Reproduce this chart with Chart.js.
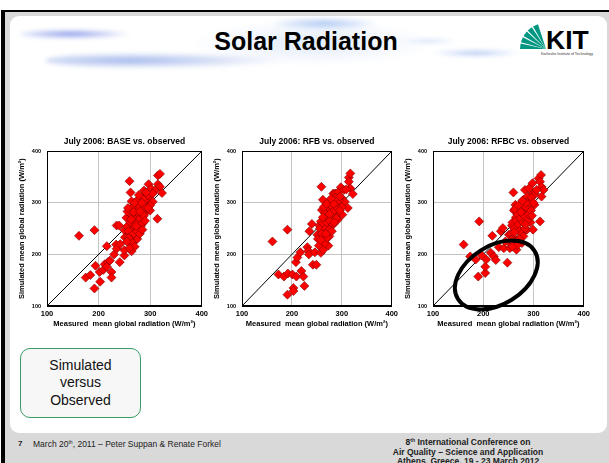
<!DOCTYPE html>
<html>
<head>
<meta charset="utf-8">
<script src="https://cdn.jsdelivr.net/npm/chart.js@4.4.1/dist/chart.umd.min.js"></script>
<style>
body { margin:0; width:609px; height:463px; overflow:hidden; background:#fff; position:relative;
       font-family:"Liberation Sans", Arial, sans-serif; }
#frame { position:absolute; left:1px; top:10px; width:608px; height:453px; box-sizing:border-box;
         border-top:2px solid #000; border-left:4px solid #000; background:#d9d9d9; }
#panel { position:absolute; left:10px; top:16px; width:597px; height:417px; background:#fff; border-radius:9px; }
.brush { position:absolute; border-radius:50%; filter:blur(2px); }
#title { position:absolute; left:156px; top:29px; width:300px; text-align:center;
         font-weight:bold; font-size:25px; line-height:25px; color:#000; }
#logo { position:absolute; left:515px; top:24px; }
canvas { position:absolute; }
#box { position:absolute; left:20px; top:348px; width:121px; height:70px; box-sizing:border-box;
       border:1.5px solid #3c9c62; border-radius:10px; background:#f7f7f7; text-align:center;
       font-size:14px; line-height:17.5px; padding-top:7.5px; color:#111; }
.foot { position:absolute; color:#222; }
sup { font-size:0.6em; line-height:0; vertical-align:0.5em; }
</style>
</head>
<body>
<div id="frame"></div>
<div id="panel"></div>

<!-- blue brush strokes behind the title -->
<div class="brush" style="left:190px;top:20px;width:245px;height:46px;background:radial-gradient(ellipse, rgba(190,210,242,0.45), rgba(255,255,255,0) 70%);"></div>
<div class="brush" style="left:20px;top:29px;width:112px;height:10px;background:radial-gradient(ellipse at 45% 50%, rgba(105,125,225,0.8), rgba(150,170,240,0) 70%);"></div>
<div class="brush" style="left:45px;top:52px;width:240px;height:17px;background:radial-gradient(ellipse at 35% 50%, rgba(115,145,225,0.65), rgba(160,185,240,0) 70%);"></div>
<div class="brush" style="left:268px;top:17px;width:112px;height:13px;background:radial-gradient(ellipse, rgba(120,165,235,0.6), rgba(160,190,240,0) 70%);"></div>
<div class="brush" style="left:430px;top:49px;width:92px;height:8px;background:radial-gradient(ellipse, rgba(125,160,230,0.6), rgba(160,190,240,0) 70%);"></div>
<div class="brush" style="left:400px;top:38px;width:60px;height:6px;background:radial-gradient(ellipse, rgba(150,180,235,0.45), rgba(160,190,240,0) 70%);"></div>

<div id="title">Solar Radiation</div>

<svg id="logo" width="82" height="36" viewBox="0 0 82 36">
  <g fill="#009682">
    <path d="M31 25 L5 25 L5.57 19.59 Z"/>
    <path d="M31 25 L5.89 18.27 L7.83 13.2 Z"/>
    <path d="M31 25 L8.48 12 L11.68 7.6 Z"/>
    <path d="M31 25 L12.62 6.62 L16.84 3.2 Z"/>
    <path d="M31 25 L18 2.48 L22.97 0.27 Z"/>
  </g>
  <text x="31" y="25" font-family="Liberation Sans, Arial" font-weight="bold" font-size="26.5" fill="#000">KIT</text>
  <text x="78" y="31" text-anchor="end" font-family="Liberation Sans, Arial" font-size="3.6" fill="#333">Karlsruhe Institute of Technology</text>
</svg>

<canvas id="c1" width="198" height="198" style="left:13px;top:133px"></canvas>
<canvas id="c2" width="193" height="198" style="left:208px;top:133px"></canvas>
<canvas id="c3" width="194" height="198" style="left:399px;top:133px"></canvas>

<div id="box">Simulated<br>versus<br>Observed</div>

<div class="foot" style="left:18px;top:439px;font-size:8px;font-weight:bold;">7</div>
<div class="foot" style="left:33px;top:439px;font-size:8.5px;">March 20<sup>th</sup>, 2011 – Peter Suppan &amp; Renate Forkel</div>
<div class="foot" style="left:358px;top:438px;width:220px;text-align:center;font-size:8.5px;font-weight:bold;line-height:9.5px;">8<sup>th</sup> International Conference on<br>Air Quality – Science and Application<br>Athens, Greece, 19 - 23 March 2012</div>

<script>
// measured vs simulated mean global radiation (W/m2)
var basePoints = [
  [162,236],[192,247],[216,216],[175,155],[184,160],[194,178],[192,134],[202,166],[203,147],[209,170],
  [212,181],[218,185],[216,176],[222,188],[225,166],[225,155],[230,200],[234,219],[235,211],[235,256],
  [240,256],[242,220],[241,185],[250,198],[250,208],[250,247],[251,233],[254,271],[256,283],[260,342],
  [262,320],[264,303],[260,256],[259,237],[264,206],[263,220],[267,252],[269,266],[270,230],[268,293],
  [272,285],[275,305],[277,278],[278,260],[277,244],[275,230],[282,292],[284,271],[286,311],[288,324],
  [291,298],[292,282],[295,301],[297,336],[298,311],[300,285],[302,327],[305,302],[315,353],[319,356],
  [315,336],[319,331],[323,319],[314,269],[309,324],
  [255,254],[258,245],[262,262],[265,275],[268,240],[270,255],[272,268],[274,282],[276,262],[278,290],
  [280,270],[282,255],[283,280],[286,288],[288,275],[290,305],[292,292],[262,228],[266,222],[270,215],
  [258,232],[255,225],[260,212],[265,290],[270,300],[275,245],[280,240],[285,260],[288,310],[295,315],
  [300,295],[305,318],[292,320],[284,300],[278,315],[296,290],[290,265],[285,248],[273,255],[263,268],
  [257,290],[268,282],[280,283]
];
var rfbPoints = [
  [161,225],[191,248],[173,161],[184,157],[192,163],[201,161],[191,122],[203,135],[203,129],[209,157],
  [208,185],[211,194],[217,204],[219,168],[223,157],[225,139],[231,214],[233,207],[234,200],[235,245],
  [240,259],[242,180],[249,180],[246,204],[251,238],[252,230],[254,217],[255,256],[259,331],[262,306],
  [260,286],[258,264],[258,203],[263,209],[263,245],[267,229],[267,273],[269,296],[272,253],[273,217],
  [275,235],[277,286],[280,302],[281,267],[283,318],[287,318],[288,294],[289,277],[292,267],[296,299],
  [298,330],[300,309],[304,325],[301,277],[312,290],[314,349],[317,357],[314,341],[317,328],[322,317],
  [309,326],[292,320],[306,302],
  [256,250],[260,240],[263,260],[266,280],[268,250],[270,262],[272,275],[274,290],[276,265],[278,295],
  [281,280],[283,258],[285,285],[287,300],[289,270],[291,290],[294,305],[262,225],[266,222],[270,232],
  [258,228],[264,292],[270,298],[275,248],[280,245],[285,262],[288,310],[296,312],[300,292],[296,285],
  [284,298],[278,308],[268,240],[262,272],[275,278]
];
var rfbcPoints = [
  [161,219],[192,264],[174,196],[185,190],[190,157],[204,164],[204,176],[206,190],[197,198],[215,203],
  [218,236],[221,196],[225,189],[231,214],[235,245],[239,251],[241,212],[244,225],[248,184],[251,238],
  [256,219],[257,256],[260,320],[261,285],[264,296],[265,272],[266,209],[268,229],[270,249],[273,264],
  [277,222],[278,286],[280,306],[283,325],[285,270],[287,248],[289,286],[291,306],[294,262],[297,317],
  [298,338],[299,248],[302,296],[303,317],[310,347],[315,354],[313,341],[316,331],[320,325],[316,312],
  [313,264],[306,325],[291,328],
  [255,240],[258,262],[262,250],[265,265],[268,278],[270,258],[272,245],[274,270],[276,290],[279,262],
  [281,276],[283,250],[285,292],[287,265],[290,278],[292,300],[295,285],[260,232],[264,225],[268,218],
  [256,228],[263,288],[270,295],[276,240],[280,235],[284,258],[288,312],[296,310],[300,300],[297,275],
  [285,300],[278,304],[272,230],[262,243],[275,282],[253,212],[258,215]
];
var diagonal = [100, 400];
var axisTicks = [100, 200, 300, 400];

// ellipse drawn by hand on the RFBC panel (data units)
var ring = { x: 226, y: 160, a: 90, b: 58, tilt: 32 };

Chart.defaults.font.family = '"Liberation Sans", Arial, sans-serif';
Chart.defaults.color = '#000';

var boxPlugin = {
  id: 'box',
  beforeDatasetsDraw: function(chart) {
    var a = chart.chartArea, c = chart.ctx;
    c.save();
    c.strokeStyle = '#000';
    c.lineWidth = 1;
    var l = Math.round(a.left) + 0.5, t = Math.round(a.top) + 0.5;
    var r = Math.round(a.right) - 0.5, b = Math.round(a.bottom) - 0.5;
    c.strokeRect(l, t, r - l, b - t);
    c.restore();
  }
};

var ringPlugin = {
  id: 'ring',
  afterDatasetsDraw: function(chart) {
    var xs = chart.scales.x, ys = chart.scales.y, c = chart.ctx;
    var k = (xs.getPixelForValue(200) - xs.getPixelForValue(100)) / 100;
    c.save();
    c.beginPath();
    c.ellipse(xs.getPixelForValue(ring.x), ys.getPixelForValue(ring.y), ring.a * k, ring.b * k,
              -ring.tilt * Math.PI / 180, 0, Math.PI * 2);
    c.lineWidth = 4;
    c.strokeStyle = '#000';
    c.stroke();
    c.restore();
  }
};

function makeChart(id, titleText, points, extra) {
  var ctx = document.getElementById(id).getContext('2d');
  var plugins = [boxPlugin];
  if (extra) plugins.push(extra);
  return new Chart(ctx, {
    type: 'scatter',
    data: {
      datasets: [{
        data: points.map(function(p) { return { x: p[0], y: p[1] }; }),
        pointStyle: 'rectRot',
        pointRadius: 4.5,
        backgroundColor: '#ff0000',
        borderColor: '#7a0000',
        borderWidth: 0.6,
        order: 0
      }, {
        type: 'line',
        data: diagonal.map(function(v) { return { x: v, y: v }; }),
        borderColor: '#000',
        borderWidth: 1,
        pointRadius: 0,
        order: 1
      }]
    },
    options: {
      responsive: false,
      animation: false,
      devicePixelRatio: 1,
      layout: { padding: { left: 0, right: 7, top: 0, bottom: 0 } },
      plugins: {
        legend: { display: false },
        tooltip: { enabled: false },
        title: {
          display: true,
          text: titleText,
          fullSize: false,
          color: '#000',
          font: { size: 8.5, weight: 'bold' },
          padding: { top: 3.7, bottom: 4.3 }
        }
      },
      scales: {
        x: {
          type: 'linear',
          min: axisTicks[0],
          max: axisTicks[axisTicks.length - 1],
          afterFit: function(s) { s.height = 25; },
          afterBuildTicks: function(s) { s.ticks = axisTicks.map(function(v) { return { value: v }; }); },
          ticks: { padding: 3, maxRotation: 0, color: '#000', font: { size: 7.5, weight: 'bold' } },
          grid: { color: '#c4c4c4', drawTicks: false },
          border: { color: '#000' },
          title: {
            display: true,
            text: 'Measured  mean global radiation (W/m²)',
            color: '#000',
            font: { size: 7.5, weight: 'bold' },
            padding: { top: 0, bottom: 2.5 }
          }
        },
        y: {
          type: 'linear',
          min: axisTicks[0],
          max: axisTicks[axisTicks.length - 1],
          afterFit: function(s) { s.width = 34; },
          afterBuildTicks: function(s) { s.ticks = axisTicks.map(function(v) { return { value: v }; }); },
          ticks: { padding: 6, color: '#000', font: { size: 5.5, weight: 'bold' } },
          grid: { color: '#c4c4c4', drawTicks: false },
          border: { color: '#000' },
          title: {
            display: true,
            text: 'Simulated mean global radiation (W/m²)',
            color: '#000',
            font: { size: 7.5, weight: 'bold' },
            padding: { top: 4.7, bottom: 0 }
          }
        }
      }
    },
    plugins: plugins
  });
}

var chart1 = makeChart('c1', 'July 2006: BASE vs. observed', basePoints);
var chart2 = makeChart('c2', 'July 2006: RFB vs. observed', rfbPoints);
var chart3 = makeChart('c3', 'July 2006: RFBC vs. observed', rfbcPoints, ringPlugin);
</script>
</body>
</html>
